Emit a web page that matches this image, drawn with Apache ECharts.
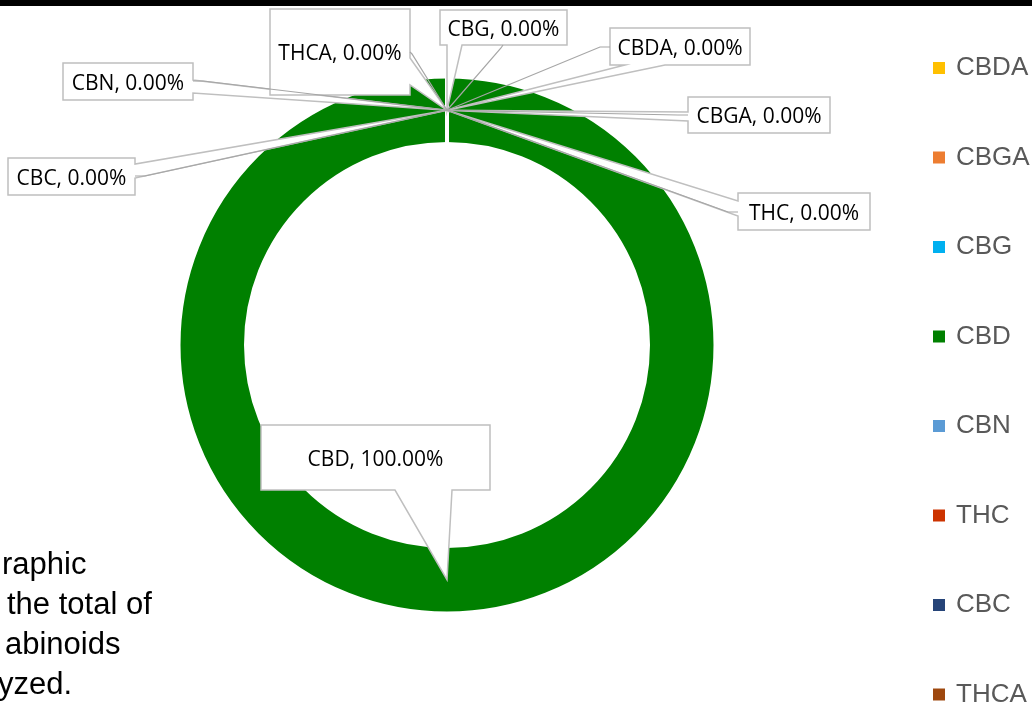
<!DOCTYPE html>
<html>
<head>
<meta charset="utf-8">
<title>Cannabinoids</title>
<script src="https://cdn.jsdelivr.net/npm/echarts@6.0.0/dist/echarts.min.js"></script>
<style>
    html, body { margin: 0; padding: 0; background: #fff; }
    #main { width: 1032px; height: 705px; }
</style>
</head>
<body>
<div id="main"></div>
<script>
// ===== data =====
var categories = ['CBDA', 'CBGA', 'CBG', 'CBD', 'CBN', 'THC', 'CBC', 'THCA'];
var values = [0, 0, 0, 100, 0, 0, 0, 0];
var colors = ['#FFC000', '#ED7D31', '#00B0F0', '#008000', '#5B9BD5', '#CC3300', '#264478', '#9E480E'];
var noteLines = ['raphic', 'the total of', 'abinoids', 'yzed.'];

// ===== layout: callout boxes (x0, y0, x1, y1) and the two base points of each pointer =====
var centerXY = [447, 345];
var radii = [201, 268.5];
var boxes = {
    CBDA: [610, 28, 750, 65],
    CBGA: [688, 97, 830, 133],
    CBG:  [440, 10, 567, 45],
    CBD:  [261, 425, 490, 490],
    CBN:  [63, 63, 193, 100],
    THC:  [738, 193, 870, 230],
    CBC:  [8, 158, 135, 195],
    THCA: [270, 9, 410, 95]
};
var pointerBase = {
    CBDA: [[625, 65], [665, 65]],
    CBGA: [[688, 112], [688, 121]],
    CBG:  [[447, 45], [462, 45]],
    CBD:  [[395, 490], [452, 490]],
    CBN:  [[193, 80], [193, 93]],
    THC:  [[738, 201], [738, 216]],
    CBC:  [[135, 164], [135, 178]],
    THCA: [[410, 58], [410, 85]]
};
// extra leader lines: start on the box, short stub
var leaderStart = {
    CBDA: [[610, 47], [600, 47]],
    CBGA: [[688, 115], [678, 115]],
    CBG:  [[503, 45], [501, 48]],
    CBN:  [[193, 81], [203, 81]],
    THC:  [[738, 212], [728, 212]],
    CBC:  [[135, 176], [145, 176]],
    THCA: [[410, 52], [412, 54]]
};

var chart = echarts.init(document.getElementById('main'), null, { renderer: 'canvas' });

// the point in the middle of the ring where a pointer ends
function ringPoint(angleDeg) {
    var r = (203 + 266.5) / 2;
    var a = angleDeg * Math.PI / 180;
    return [centerXY[0] + r * Math.cos(a), centerXY[1] - r * Math.sin(a)];
}

function tipOf(i) {
    // zero slices all sit at the top, CBD's pointer goes to the bottom
    return values[i] > 0 ? ringPoint(-90) : ringPoint(90);
}

/**
 * outline of a callout: the box with a pointer cut into one of its edges
 */
function calloutOutline(name, tip) {
    var b = boxes[name];
    var p = pointerBase[name].slice();
    var tl = [b[0], b[1]], tr = [b[2], b[1]], br = [b[2], b[3]], bl = [b[0], b[3]];
    if (p[0][0] === b[2]) {          // right edge, going down
        p.sort(function (m, n) { return m[1] - n[1]; });
        return [tl, tr, p[0], tip, p[1], br, bl];
    } else if (p[0][0] === b[0]) {   // left edge, going up
        p.sort(function (m, n) { return n[1] - m[1]; });
        return [tl, tr, br, bl, p[0], tip, p[1]];
    } else if (p[0][1] === b[3]) {   // bottom edge, going left
        p.sort(function (m, n) { return n[0] - m[0]; });
        return [tl, tr, br, p[0], tip, p[1], bl];
    }
    p.sort(function (m, n) { return m[0] - n[0]; });  // top edge, going right
    return [tl, p[0], tip, p[1], tr, br, bl];
}

var calloutGraphics = categories.map(function (name, i) {
    return {
        type: 'polygon',
        z: 3,
        silent: true,
        shape: { points: calloutOutline(name, tipOf(i)) },
        style: { fill: '#fff', stroke: '#bfbfbf', lineWidth: 1.5 }
    };
});

var noteGraphics = noteLines.map(function (t, i) {
    var xs = [2, 7, 5, -2];
    return {
        type: 'text',
        left: xs[i],
        top: 550 + i * 40,
        silent: true,
        style: {
            text: t,
            fill: '#000',
            font: '31px "Liberation Sans", Arial, sans-serif'
        }
    };
});

// ring itself
var ringData = categories.map(function (name, i) {
    return { name: name, value: values[i], itemStyle: { color: colors[i] } };
});

// same slices again, transparent, carrying the callout texts and leader lines above the ring
var textData = categories.map(function (name, i) {
    return {
        name: name,
        value: values[i],
        itemStyle: { color: 'rgba(0,0,0,0)' },
        labelLine: { show: !!leaderStart[name] }
    };
});

var option = {
    animation: false,
    color: colors,
    graphic: [{
        type: 'rect',
        left: 0,
        top: 0,
        z: 10,
        silent: true,
        shape: { width: 1032, height: 6 },
        style: { fill: '#000' }
    }].concat(noteGraphics, calloutGraphics),
    legend: {
        orient: 'vertical',
        left: 931,
        top: 55,
        height: 1000,
        padding: 0,
        itemGap: 63.5,
        itemWidth: 14,
        itemHeight: 14,
        icon: 'rect',
        selectedMode: false,
        data: categories,
        textStyle: {
            color: '#595959',
            fontSize: 26,
            fontFamily: '"Liberation Sans", Arial, sans-serif',
            padding: [0, 0, 0, 5]
        }
    },
    series: [{
        type: 'pie',
        z: 2,
        center: centerXY,
        radius: radii,
        startAngle: 90,
        clockwise: true,
        silent: true,
        emphasis: { disabled: true },
        itemStyle: { borderColor: '#fff', borderWidth: 4 },
        label: { show: false },
        labelLine: { show: false },
        data: ringData
    }, {
        type: 'pie',
        z: 5,
        center: centerXY,
        radius: radii,
        startAngle: 90,
        clockwise: true,
        avoidLabelOverlap: false,
        silent: true,
        emphasis: { disabled: true },
        itemStyle: { borderWidth: 0 },
        label: {
            show: true,
            position: 'outside',
            color: '#000',
            fontSize: 21,
            fontFamily: '"Open Sans", "Noto Sans", sans-serif',
            formatter: function (p) {
                return p.name + ', ' + p.percent.toFixed(2) + '%';
            }
        },
        labelLine: {
            smooth: false,
            lineStyle: { color: '#a6a6a6', width: 1.2 }
        },
        labelLayout: function (params) {
            var name = categories[params.dataIndex];
            var b = boxes[name];
            var out = {
                x: (b[0] + b[2]) / 2,
                y: (b[1] + b[3]) / 2 + 2.5,
                align: 'center',
                verticalAlign: 'middle'
            };
            if (leaderStart[name]) {
                out.labelLinePoints = [leaderStart[name][0], leaderStart[name][1], tipOf(params.dataIndex)];
            }
            return out;
        },
        data: textData
    }]
};

chart.setOption(option);
</script>
</body>
</html>
